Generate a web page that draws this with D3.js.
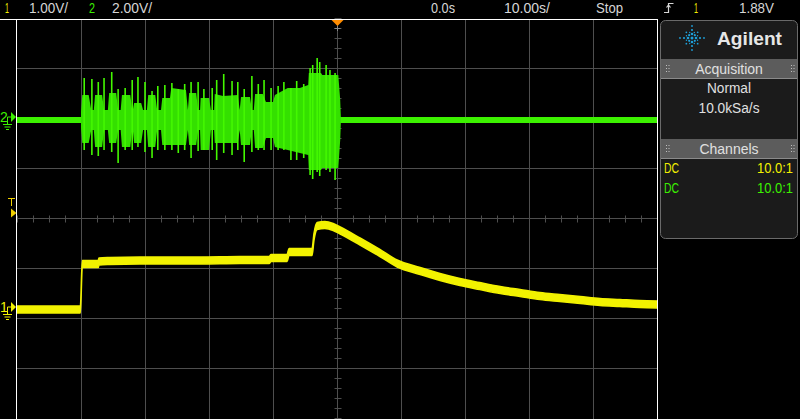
<!DOCTYPE html>
<html><head><meta charset="utf-8">
<script src="https://cdn.jsdelivr.net/npm/d3@7"></script>
<style>
html,body{margin:0;padding:0;background:#000;}
svg{display:block;}
text{font-family:"Liberation Sans",Arial,sans-serif;}
</style></head><body>
<svg id="c" width="800" height="419"></svg>
<script>
// ---- time base / graticule ----
const timeDomain = [-50, 50];            // seconds on screen (10.00 s/div)
const timeGrid = [-40,-30,-20,-10,0,10,20,30,40];
const divGrid = [-3,-2,-1,0,1,2,3,4];

// ---- channel 1 (yellow, 1.00 V/div) ----
const ch1Time  = [-50,-40.1,-39.8,-37.3,-37.2,-35.5,-30.8,-21.4,-15.2,-10.6,-10.3,-7.8,-7.5,-3.9,-3.6,-3.1,-1.9,-0.6,0.5,3.6,6.7,9.4,13.0,16.1,19.2,22.3,25.5,28.6,31.7,34.8,38.0,41.1,44.2,47.3,50];
const ch1Volts = [-0.05,-0.05,0.86,0.86,0.91,0.92,0.93,0.93,0.94,0.94,0.98,0.98,1.1,1.1,1.4,1.62,1.64,1.6,1.53,1.31,1.08,0.87,0.72,0.6,0.5,0.42,0.34,0.28,0.22,0.18,0.14,0.1,0.08,0.06,0.05];

// ---- channel 2 (green, 2.00 V/div) ----
const ch2BaseHigh = 0, ch2BaseLow = -0.24;
const ch2EnvTime = [-40.0,-39.8,-38.8,-38.4,-38.0,-37.8,-36.7,-36.4,-35.8,-35.6,-34.5,-34.2,-33.8,-33.6,-32.3,-32.0,-31.9,-31.7,-30.6,-30.3,-29.7,-29.5,-28.4,-28.1,-27.5,-27.3,-26.1,-25.9,-23.6,-23.3,-23.1,-22.0,-21.7,-21.4,-21.3,-20.0,-19.7,-19.2,-19.1,-17.8,-15.5,-15.2,-15.0,-13.6,-13.3,-13.0,-12.8,-11.6,-11.1,-10.0,-9.7,-7.7,-5.8,-4.5,-4.4,-2.5,-2.3,0.2,0.5,0.6];
const ch2EnvHigh = [0.2,0.88,0.88,0.28,0.28,0.88,0.88,0.28,0.28,0.96,0.96,0.28,0.28,0.88,0.88,0.28,0.28,0.56,0.56,0.28,0.28,0.88,0.88,0.28,0.28,0.76,0.76,1.16,1.08,0.28,0.96,0.96,0.28,0.28,0.76,0.76,0.28,0.28,0.92,0.84,0.88,0.28,0.8,0.8,0.28,0.28,0.92,0.92,0.6,0.6,0.88,1.16,1.16,1.28,1.76,1.76,1.68,1.68,0.68,0];
const ch2EnvLow  = [-0.44,-1.04,-1.04,-0.52,-0.52,-1.2,-1.2,-0.52,-0.52,-1.04,-1.04,-0.52,-0.52,-1.2,-1.2,-0.52,-0.52,-1.04,-1.04,-0.52,-0.52,-1.2,-1.2,-0.52,-0.52,-1.12,-1.12,-1.12,-1.12,-0.52,-1.12,-1.12,-0.52,-0.52,-1.32,-1.32,-0.52,-0.52,-1.04,-1.04,-1.04,-0.52,-1.12,-1.12,-0.52,-0.52,-1.24,-1.24,-0.84,-0.84,-1.2,-1.32,-1.44,-1.52,-2.12,-2.12,-2.04,-2.04,-0.92,-0.24];
const ch2SpikeTime = [-39.5,-38.3,-37.3,-36.4,-35.2,-34.2,-33.1,-32.0,-31.1,-30.0,-28.9,-28.0,-26.9,-25.8,-24.8,-23.8,-22.8,-21.7,-20.8,-19.5,-18.8,-17.7,-16.4,-15.5,-14.5,-13.3,-12.3,-11.4,-10.3,-9.2,-8.3,-7.2,-6.3,-5.2,-4.2,-3.8,-3.1,-2.7,-1.7,-1.1,-0.3];
const ch2SpikeHigh = [1.56,1.52,1.4,1.56,1.8,1.12,1.16,1.48,1.6,1.4,1.04,1.24,1.28,1.36,1.12,1.32,1.4,1.4,1.12,1.16,1.48,1.72,1.44,1.4,1.12,1.64,1.32,1.48,1.16,1.24,1.4,1.16,1.44,1.32,1.96,2.08,2.36,2.2,2.08,1.88,1.76];
const ch2SpikeLow  = [-1.32,-1.52,-1.56,-1.32,-1.4,-1.84,-1.32,-1.32,-1.2,-1.4,-1.64,-1.32,-1.32,-1.32,-1.44,-1.32,-1.64,-1.36,-1.32,-1.32,-1.72,-1.44,-1.52,-1.32,-1.8,-1.4,-1.32,-1.32,-1.32,-1.32,-1.32,-1.72,-1.72,-1.64,-2.32,-2.48,-2.2,-2.36,-2.12,-2.2,-2.52];

// ---- status texts ----
const ch1ScaleLabel = "1.00V/", ch2ScaleLabel = "2.00V/";
const delayLabel = "0.0s", timebaseLabel = "10.00s/", runLabel = "Stop";
const trigSource = "1", trigLevelLabel = "1.88V", trigLevel = 1.88;
const acqLabels = ["Normal", "10.0kSa/s"];
const chanCoupling = ["DC", "DC"], chanProbe = ["10.0:1", "10.0:1"];

// ---- colours ----
const C1 = "#f2f200", C2 = "#3cf000", GRID = "#4e4e4e", TXT = "#d6d6d6";

const svg = d3.select("#c");
svg.append("rect").attr("width",800).attr("height",419).attr("fill","#000");

const x = d3.scaleLinear().domain(timeDomain).range([17, 657]);
const gy = d3.scaleLinear().domain([-4, 4]).range([418, 18]);
const y1 = d3.scaleLinear().domain([-2.22, 5.78]).range([418, 18]);   // 1 V/div
const y2 = d3.scaleLinear().domain([-12.04, 3.96]).range([418, 18]);  // 2 V/div
const px = v => Math.round(v) + 0.5;

// graticule
const g = svg.append("g");
g.selectAll(".vl").data(timeGrid).enter().append("line")
  .attr("x1", d => px(x(d))).attr("x2", d => px(x(d))).attr("y1", 19).attr("y2", 419)
  .attr("stroke", GRID);
g.selectAll(".hl").data(divGrid.filter(d => d < 4)).enter().append("line")
  .attr("x1", 17).attr("x2", 657).attr("y1", d => px(gy(d))).attr("y2", d => px(gy(d)))
  .attr("stroke", GRID);
// minor ticks on the centre cross
const hTicks = d3.range(-50, 50.01, 2.5);
g.selectAll(".ht").data(hTicks).enter().append("line")
  .attr("x1", d => px(x(d))).attr("x2", d => px(x(d)))
  .attr("y1", px(gy(0)) - 3).attr("y2", px(gy(0)) + 4).attr("stroke", GRID);
const vTicks = d3.range(-4, 4.01, 0.2);
g.selectAll(".vt").data(vTicks).enter().append("line")
  .attr("y1", d => px(gy(d))).attr("y2", d => px(gy(d)))
  .attr("x1", px(x(0)) - 3).attr("x2", px(x(0)) + 4).attr("stroke", GRID);

// channel 2 trace
svg.append("path")
  .datum([timeDomain[0], timeDomain[1]])
  .attr("d", d3.area().x(d => x(d)).y0(y2(ch2BaseLow)).y1(y2(ch2BaseHigh)))
  .attr("fill", C2);
const env = ch2EnvTime.map((t, i) => ({t, hi: ch2EnvHigh[i], lo: ch2EnvLow[i]}));
svg.append("path").datum(env)
  .attr("d", d3.area().x(d => x(d.t)).y0(d => y2(d.lo)).y1(d => y2(d.hi)))
  .attr("fill", "#34e000");
svg.selectAll(".sp").data(ch2SpikeTime.map((t, i) => ({t, hi: ch2SpikeHigh[i], lo: ch2SpikeLow[i]})))
  .enter().append("line")
  .attr("x1", d => x(d.t)).attr("x2", d => x(d.t))
  .attr("y1", d => y2(d.hi)).attr("y2", d => y2(d.lo))
  .attr("stroke", "#44f800").attr("stroke-width", 1.6);

// channel 1 trace: a band of the trace's noise width, thin on vertical edges
const ch1 = ch1Time.map((t, i) => ({t, v: ch1Volts[i]}));
svg.append("path").datum(ch1)
  .attr("d", d3.area().curve(d3.curveMonotoneX).x(d => x(d.t)).y0(d => y1(d.v) + 3.5).y1(d => y1(d.v) - 3.5))
  .attr("fill", C1).attr("stroke", C1).attr("stroke-width", 1.5);

// frame
svg.append("line").attr("x1", 0).attr("x2", 657.5).attr("y1", 19.5).attr("y2", 19.5).attr("stroke", "#fff");
svg.append("line").attr("x1", 16.5).attr("x2", 16.5).attr("y1", 19).attr("y2", 419).attr("stroke", "#fff");
svg.append("line").attr("x1", 657.5).attr("x2", 657.5).attr("y1", 19).attr("y2", 419).attr("stroke", "#fff");
svg.append("rect").attr("x", 658).attr("y", 20).attr("width", 142).attr("height", 399).attr("fill", "#000");

// trigger position marker (top)
const tx = px(x(0));
svg.append("path").attr("d", `M${tx-6},20 L${tx+6},20 L${tx},26 Z`).attr("fill", "#ff8c00");
svg.append("line").attr("x1", tx).attr("x2", tx).attr("y1", 26).attr("y2", 31).attr("stroke", "#888");
svg.append("line").attr("x1", tx-3).attr("x2", tx+3).attr("y1", 28.5).attr("y2", 28.5).attr("stroke", "#888");

// left channel markers
function chanMarker(yy, col, label) {
  const m = svg.append("g");
  m.append("text").attr("x", 0).attr("y", yy + 5).attr("fill", col).attr("font-size", 14).text(label);
  m.append("path").attr("d", `M11,${yy-5} L16,${yy} L11,${yy+5} Z`).attr("fill", col);
  m.append("path").attr("d", `M11,${yy}H7.5V${yy+7}`).attr("fill", "none").attr("stroke", col);
  [[9,0],[6,2.5],[3,5]].forEach(([w, o]) =>
    m.append("line").attr("x1", 7.5 - w/2).attr("x2", 7.5 + w/2)
      .attr("y1", yy + 7.5 + o).attr("y2", yy + 7.5 + o).attr("stroke", col));
}
chanMarker(Math.round(y2(0)), C2, "2");
chanMarker(Math.round(y1(0)), C1, "1");
// trigger level marker
const tl = Math.round(y1(trigLevel));
svg.append("path").attr("d", `M11,${tl-4.5} L16.5,${tl} L11,${tl+4.5} Z`).attr("fill", "#f0d000");
svg.append("path").attr("d", `M8,${tl-14.5}H15M11.5,${tl-14.5}V${tl-7}`).attr("stroke", "#f0d000").attr("fill", "none");

// top status line
function txt(s, xx, yy, col, len, size, anchor) {
  const t = svg.append("text").attr("x", xx).attr("y", yy).attr("fill", col)
    .attr("font-size", size || 14).text(s);
  if (anchor) t.attr("text-anchor", anchor);
  if (len) t.attr("textLength", len).attr("lengthAdjust", "spacingAndGlyphs");
  return t;
}
txt("1", 5, 13, C1, 4);
txt(ch1ScaleLabel, 29, 13, TXT, 39);
txt("2", 89, 13, C2, 6);
txt(ch2ScaleLabel, 112, 13, TXT, 40);
txt(delayLabel, 431, 13, TXT, 24);
txt(timebaseLabel, 504, 13, TXT, 46);
txt(runLabel, 596, 13, TXT, 27);
svg.append("path").attr("d", "M664,12.5H668.5V3.5H673.5M666.5,7.5L668.5,5L670.5,7.5")
  .attr("fill", "none").attr("stroke", TXT).attr("stroke-width", 1.2);
txt(trigSource, 694, 13, C1, 4);
txt(trigLevelLabel, 739, 13, TXT, 35);

// right panel
svg.append("rect").attr("x", 660.5).attr("y", 20.5).attr("width", 137).attr("height", 218).attr("rx", 5)
  .attr("fill", "#1b1b1b").attr("stroke", "#6a6a6a");
// logo
const lg = svg.append("g").attr("fill", "#1e9fd8");
lg.append("circle").attr("cx", 692).attr("cy", 38).attr("r", 1.5);
d3.range(8).forEach(k => {
  const a = k * Math.PI / 4, main = k % 2 === 0;
  (main ? [[4,1.3],[8,1.1],[12,0.9]] : [[4,1.1],[8,0.9]]).forEach(([r, s]) =>
    lg.append("circle").attr("cx", 692 + r * Math.cos(a)).attr("cy", 38 + r * Math.sin(a)).attr("r", s));
});
d3.range(8).forEach(k => {
  const a = (k + 0.5) * Math.PI / 4;
  lg.append("circle").attr("cx", 692 + 6 * Math.cos(a)).attr("cy", 38 + 6 * Math.sin(a)).attr("r", 0.7);
});
txt("Agilent", 717, 45, "#e6e6e6", 65, 19).attr("font-weight", "bold");
// headers
function header(label, top) {
  svg.append("rect").attr("x", 661).attr("y", top).attr("width", 136).attr("height", 19).attr("fill", "#5c5c5c");
  svg.append("line").attr("x1", 661).attr("x2", 797).attr("y1", top + 19.5).attr("y2", top + 19.5).attr("stroke", "#8a8a8a");
  [666, 791].forEach(gx => [0, 1].forEach(c => [0, 1, 2].forEach(r =>
    svg.append("rect").attr("x", gx + c * 2.5).attr("y", top + 6 + r * 3).attr("width", 1).attr("height", 1).attr("fill", "#c0c0c0"))));
  txt(label, 729, top + 15, "#e0e0e0", null, 14, "middle");
}
header("Acquisition", 59);
txt(acqLabels[0], 729, 93, "#e0e0e0", 44, 14, "middle");
txt(acqLabels[1], 729, 113, "#e0e0e0", 61, 14, "middle");
header("Channels", 139);
txt(chanCoupling[0], 664, 173, C1, 15);
txt(chanProbe[0], 793, 173, C1, 36, 14, "end");
txt(chanCoupling[1], 664, 193, C2, 15);
txt(chanProbe[1], 793, 193, C2, 36, 14, "end");
</script>
</body></html>
